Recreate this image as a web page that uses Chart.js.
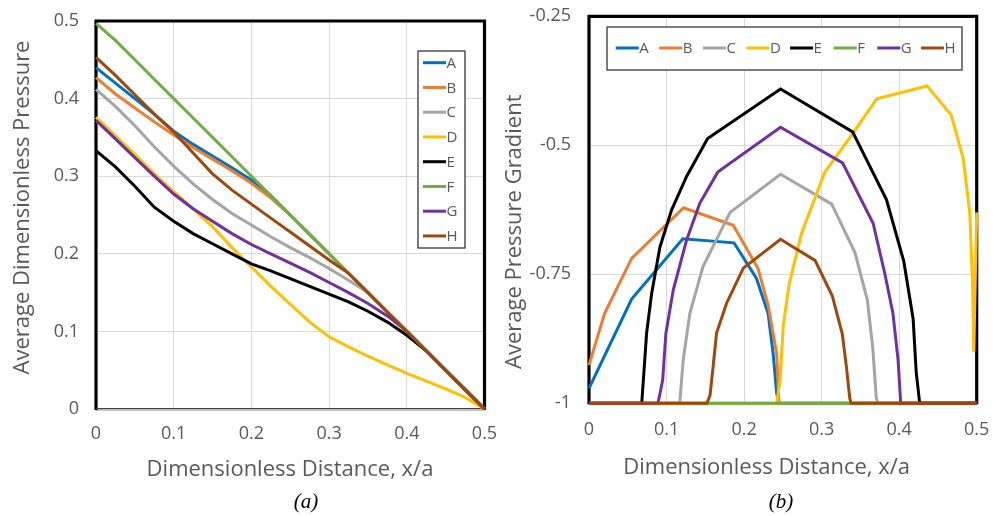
<!DOCTYPE html>
<html><head><meta charset="utf-8">
<script src="https://cdn.jsdelivr.net/npm/chart.js@4.4.0/dist/chart.umd.min.js"></script>
<style>
html,body{margin:0;padding:0;background:#fff;width:1002px;height:516px;overflow:hidden}
#wa{position:absolute;left:0;top:0;width:500px;height:516px}
#wb{position:absolute;left:500px;top:0;width:502px;height:516px}
.cap{position:absolute;font:italic 21px "Liberation Serif";color:#000;transform:translateX(-50%);white-space:nowrap}
</style></head><body>
<div id="wa"><canvas id="ca" width="500" height="516"></canvas></div>
<div id="wb"><canvas id="cb" width="502" height="516"></canvas></div>
<div class="cap" style="left:306px;top:489px">(a)</div>
<div class="cap" style="left:781px;top:489px">(b)</div>
<script>
// ---------- data ----------
const seriesNames = ['A','B','C','D','E','F','G','H'];
const seriesColors = ['#0070C0','#ED7D31','#A5A5A5','#FFC000','#000000','#70AD47','#7030A0','#9E480E'];

const xTickValues = [0, 0.1, 0.2, 0.3, 0.4, 0.5];
const xTickLabels = ['0', '0.1', '0.2', '0.3', '0.4', '0.5'];
const yTickValuesA = [0, 0.1, 0.2, 0.3, 0.4, 0.5];
const yTickLabelsA = ['0', '0.1', '0.2', '0.3', '0.4', '0.5'];
const yTickValuesB = [-1, -0.75, -0.5, -0.25];
const yTickLabelsB = ['-1', '-0.75', '-0.5', '-0.25'];

const xTitle = 'Dimensionless Distance, x/a';
const yTitleA = 'Average Dimensionless Pressure';
const yTitleB = 'Average Pressure Gradient';

// (a) average dimensionless pressure
const xP = [0,0.025,0.05,0.075,0.1,0.125,0.15,0.175,0.2,0.225,0.25,0.275,0.3,0.325,0.35,0.375,0.4,0.425,0.45,0.475,0.5];
const pA = [0.440,0.420,0.400,0.380,0.358,0.341,0.326,0.311,0.295,0.275,0.250,0.225,0.200,0.175,0.150,0.125,0.100,0.075,0.050,0.025,0.000];
const pB = [0.427,0.406,0.388,0.370,0.353,0.337,0.322,0.307,0.291,0.272,0.250,0.225,0.200,0.175,0.150,0.125,0.100,0.075,0.050,0.025,0.000];
const pC = [0.412,0.390,0.365,0.338,0.313,0.290,0.270,0.252,0.237,0.222,0.208,0.195,0.181,0.166,0.150,0.125,0.100,0.075,0.050,0.025,0.000];
const pD = [0.376,0.352,0.328,0.303,0.280,0.258,0.235,0.208,0.183,0.158,0.135,0.112,0.093,0.080,0.068,0.057,0.046,0.036,0.026,0.015,0.000];
const pE = [0.333,0.312,0.287,0.260,0.242,0.226,0.213,0.200,0.187,0.178,0.168,0.158,0.148,0.138,0.126,0.112,0.095,0.075,0.050,0.025,0.000];
const pF = [0.497,0.475,0.450,0.425,0.400,0.375,0.350,0.325,0.300,0.275,0.250,0.225,0.200,0.175,0.150,0.125,0.100,0.075,0.050,0.025,0.000];
const pG = [0.372,0.348,0.324,0.300,0.277,0.258,0.242,0.226,0.212,0.200,0.188,0.176,0.163,0.150,0.136,0.120,0.100,0.075,0.050,0.025,0.000];
const pH = [0.453,0.430,0.405,0.380,0.357,0.330,0.303,0.282,0.264,0.246,0.228,0.210,0.192,0.175,0.150,0.125,0.100,0.075,0.050,0.025,0.000];

// (b) average pressure gradient
const gAx = [0, 0.055, 0.121, 0.187, 0.216, 0.231, 0.2375, 0.242, 0.245, 0.5];
const gAy = [-0.971, -0.798, -0.681, -0.689, -0.758, -0.826, -0.904, -0.98, -1, -1];
const gBx = [0, 0.02, 0.055, 0.122, 0.186, 0.218, 0.231, 0.242, 0.245, 0.5];
const gBy = [-0.926, -0.826, -0.719, -0.621, -0.655, -0.739, -0.81, -0.904, -1, -1];
const gCx = [0, 0.117, 0.1215, 0.13, 0.147, 0.182, 0.247, 0.313, 0.343, 0.359, 0.366, 0.3705, 0.373, 0.5];
const gCy = [-1, -1, -0.916, -0.826, -0.735, -0.63, -0.556, -0.614, -0.708, -0.8, -0.893, -0.99, -1, -1];
const gDx = [0, 0.242, 0.2465, 0.2505, 0.258, 0.274, 0.304, 0.336, 0.371, 0.436, 0.467, 0.4825, 0.491, 0.4945, 0.4962, 0.5];
const gDy = [-1, -1, -0.955, -0.85, -0.77, -0.671, -0.552, -0.486, -0.41, -0.385, -0.441, -0.525, -0.63, -0.76, -0.9, -0.63];
const gEx = [0, 0.068, 0.0743, 0.0808, 0.0915, 0.1066, 0.126, 0.153, 0.247, 0.34, 0.3836, 0.406, 0.418, 0.422, 0.4265, 0.5];
const gEy = [-1, -1, -0.864, -0.787, -0.697, -0.625, -0.56, -0.487, -0.391, -0.474, -0.605, -0.725, -0.836, -0.94, -1, -1];
const gFx = [0, 0.5];
const gFy = [-1, -1];
const gGx = [0, 0.089, 0.095, 0.0992, 0.1087, 0.126, 0.143, 0.166, 0.247, 0.327, 0.3664, 0.3814, 0.392, 0.3986, 0.402, 0.5];
const gGy = [-1, -1, -0.955, -0.864, -0.78, -0.683, -0.612, -0.552, -0.465, -0.534, -0.651, -0.748, -0.826, -0.916, -1, -1];
const gHx = [0, 0.152, 0.156, 0.16, 0.1645, 0.1774, 0.199, 0.247, 0.2915, 0.3138, 0.3267, 0.332, 0.3363, 0.338, 0.5];
const gHy = [-1, -1, -0.985, -0.93, -0.864, -0.806, -0.738, -0.682, -0.723, -0.792, -0.866, -0.93, -0.99, -1, -1];

// ---------- helpers ----------
const FONT = '"Open Sans", "Noto Sans", sans-serif';
const TXT = '#595959';
const zip = (xs, ys) => xs.map((x, i) => ({x: x, y: ys[i]}));

function makeDatasets(xsList, ysList) {
  return seriesNames.map((n, i) => ({
    label: n,
    data: zip(xsList[i], ysList[i]),
    borderColor: seriesColors[i],
    backgroundColor: seriesColors[i],
    borderWidth: 3,
    pointRadius: 0,
    tension: 0,
    fill: false,
    clip: 4,
    order: seriesNames.length - i
  }));
}

const framePlugin = {
  id: 'frame',
  beforeDatasetsDraw(chart) {
    const {ctx, chartArea: a} = chart;
    ctx.save();
    ctx.strokeStyle = '#BFBFBF'; ctx.lineWidth = 2;
    ctx.beginPath(); ctx.moveTo(a.left, a.bottom + 1); ctx.lineTo(a.right, a.bottom + 1); ctx.stroke();
    ctx.strokeStyle = '#000'; ctx.lineWidth = 3.2;
    ctx.beginPath();
    ctx.moveTo(a.left, a.bottom + 1); ctx.lineTo(a.left, a.top);
    ctx.lineTo(a.right, a.top); ctx.lineTo(a.right, a.bottom + 1);
    ctx.stroke();
    ctx.lineWidth = 1; ctx.strokeStyle = '#404040';
    ctx.beginPath(); ctx.moveTo(a.left, a.bottom - 0.5); ctx.lineTo(a.right, a.bottom - 0.5); ctx.stroke();
    ctx.restore();
  }
};

const textPlugin = {
  id: 'texts',
  afterDraw(chart, args, o) {
    const ctx = chart.ctx;
    ctx.save();
    ctx.fillStyle = TXT;
    ctx.font = '22px ' + FONT;
    ctx.textAlign = 'center'; ctx.textBaseline = 'alphabetic';
    ctx.fillText(o.xTitle, o.xTitleX, o.xTitleY);
    ctx.translate(o.yTitleX, o.yTitleY);
    ctx.rotate(-Math.PI / 2);
    ctx.fillText(o.yTitle, 0, 0);
    ctx.restore();
  }
};

const legendPlugin = {
  id: 'boxLegend',
  afterDraw(chart, args, o) {
    const ctx = chart.ctx;
    ctx.save();
    ctx.fillStyle = '#fff';
    ctx.fillRect(o.box[0], o.box[1], o.box[2], o.box[3]);
    ctx.strokeStyle = '#262626'; ctx.lineWidth = 1.2;
    ctx.strokeRect(o.box[0], o.box[1], o.box[2], o.box[3]);
    ctx.font = '15px ' + FONT;
    ctx.textAlign = 'left'; ctx.textBaseline = 'middle';
    chart.data.datasets.forEach((ds, i) => {
      const x = o.x0 + i * o.dx, y = o.y0 + i * o.dy;
      ctx.strokeStyle = ds.borderColor; ctx.lineWidth = 3;
      ctx.beginPath(); ctx.moveTo(x, y); ctx.lineTo(x + o.len, y); ctx.stroke();
      ctx.fillStyle = TXT;
      ctx.fillText(ds.label, x + o.len + 0.5, y + 1);
    });
    ctx.restore();
  }
};

function scaleOpts(tickVals, tickLabels, min, max, gap, fitSize, horizontal) {
  return {
    type: 'linear', min: min, max: max,
    afterBuildTicks: s => { s.ticks = tickVals.map(v => ({value: v})); },
    afterFit: s => { if (horizontal) s.height = fitSize; else s.width = fitSize; },
    ticks: {
      callback: (v, i) => tickLabels[i],
      color: TXT, font: {family: FONT, size: 18}, padding: 0,
      maxRotation: 0, autoSkip: false
    },
    grid: {color: '#D9D9D9', lineWidth: 1, drawTicks: true, tickLength: gap, tickColor: 'rgba(0,0,0,0)'},
    border: {display: false},
    title: {display: false}
  };
}

function makeChart(id, datasets, cfg) {
  return new Chart(document.getElementById(id), {
    type: 'line',
    data: {datasets: datasets},
    options: {
      responsive: false, animation: false, devicePixelRatio: 1,
      layout: {padding: cfg.padding},
      plugins: {legend: {display: false}, tooltip: {enabled: false},
        texts: cfg.texts, boxLegend: cfg.legend},
      scales: {
        x: scaleOpts(xTickValues, xTickLabels, 0, 0.5, cfg.xGap, cfg.xFit, true),
        y: scaleOpts(cfg.yVals, cfg.yLabels, cfg.yMin, cfg.yMax, cfg.yGap, cfg.yFit, false)
      }
    },
    plugins: [framePlugin, textPlugin, legendPlugin]
  });
}

makeChart('ca',
  makeDatasets([xP,xP,xP,xP,xP,xP,xP,xP], [pA,pB,pC,pD,pE,pF,pG,pH]),
  {
    padding: {left: 0, top: 21, right: 15.5, bottom: 0},
    xFit: 107, yFit: 96, xGap: 14, yGap: 17,
    yVals: yTickValuesA, yLabels: yTickLabelsA, yMin: 0, yMax: 0.5,
    texts: {xTitle: xTitle, xTitleX: 290, xTitleY: 475.5, yTitle: yTitleA, yTitleX: 29, yTitleY: 207.5},
    legend: {box: [418, 51, 47, 197], x0: 423, y0: 62.7, dx: 0, dy: 24.75, len: 23}
  });

makeChart('cb',
  makeDatasets([gAx,gBx,gCx,gDx,gEx,gFx,gGx,gHx], [gAy,gBy,gCy,gDy,gEy,gFy,gGy,gHy]),
  {
    padding: {left: 0, top: 16.3, right: 25.3, bottom: 0},
    xFit: 112.7, yFit: 89, xGap: 16, yGap: 18,
    yVals: yTickValuesB, yLabels: yTickLabelsB, yMin: -1, yMax: -0.25,
    texts: {xTitle: xTitle, xTitleX: 266.7, xTitleY: 474, yTitle: yTitleB, yTitleX: 20.5, yTitleY: 231.7},
    legend: {box: [107, 27, 355, 43], x0: 115.7, y0: 48, dx: 43.6, dy: 0, len: 23}
  });
</script>
</body></html>
